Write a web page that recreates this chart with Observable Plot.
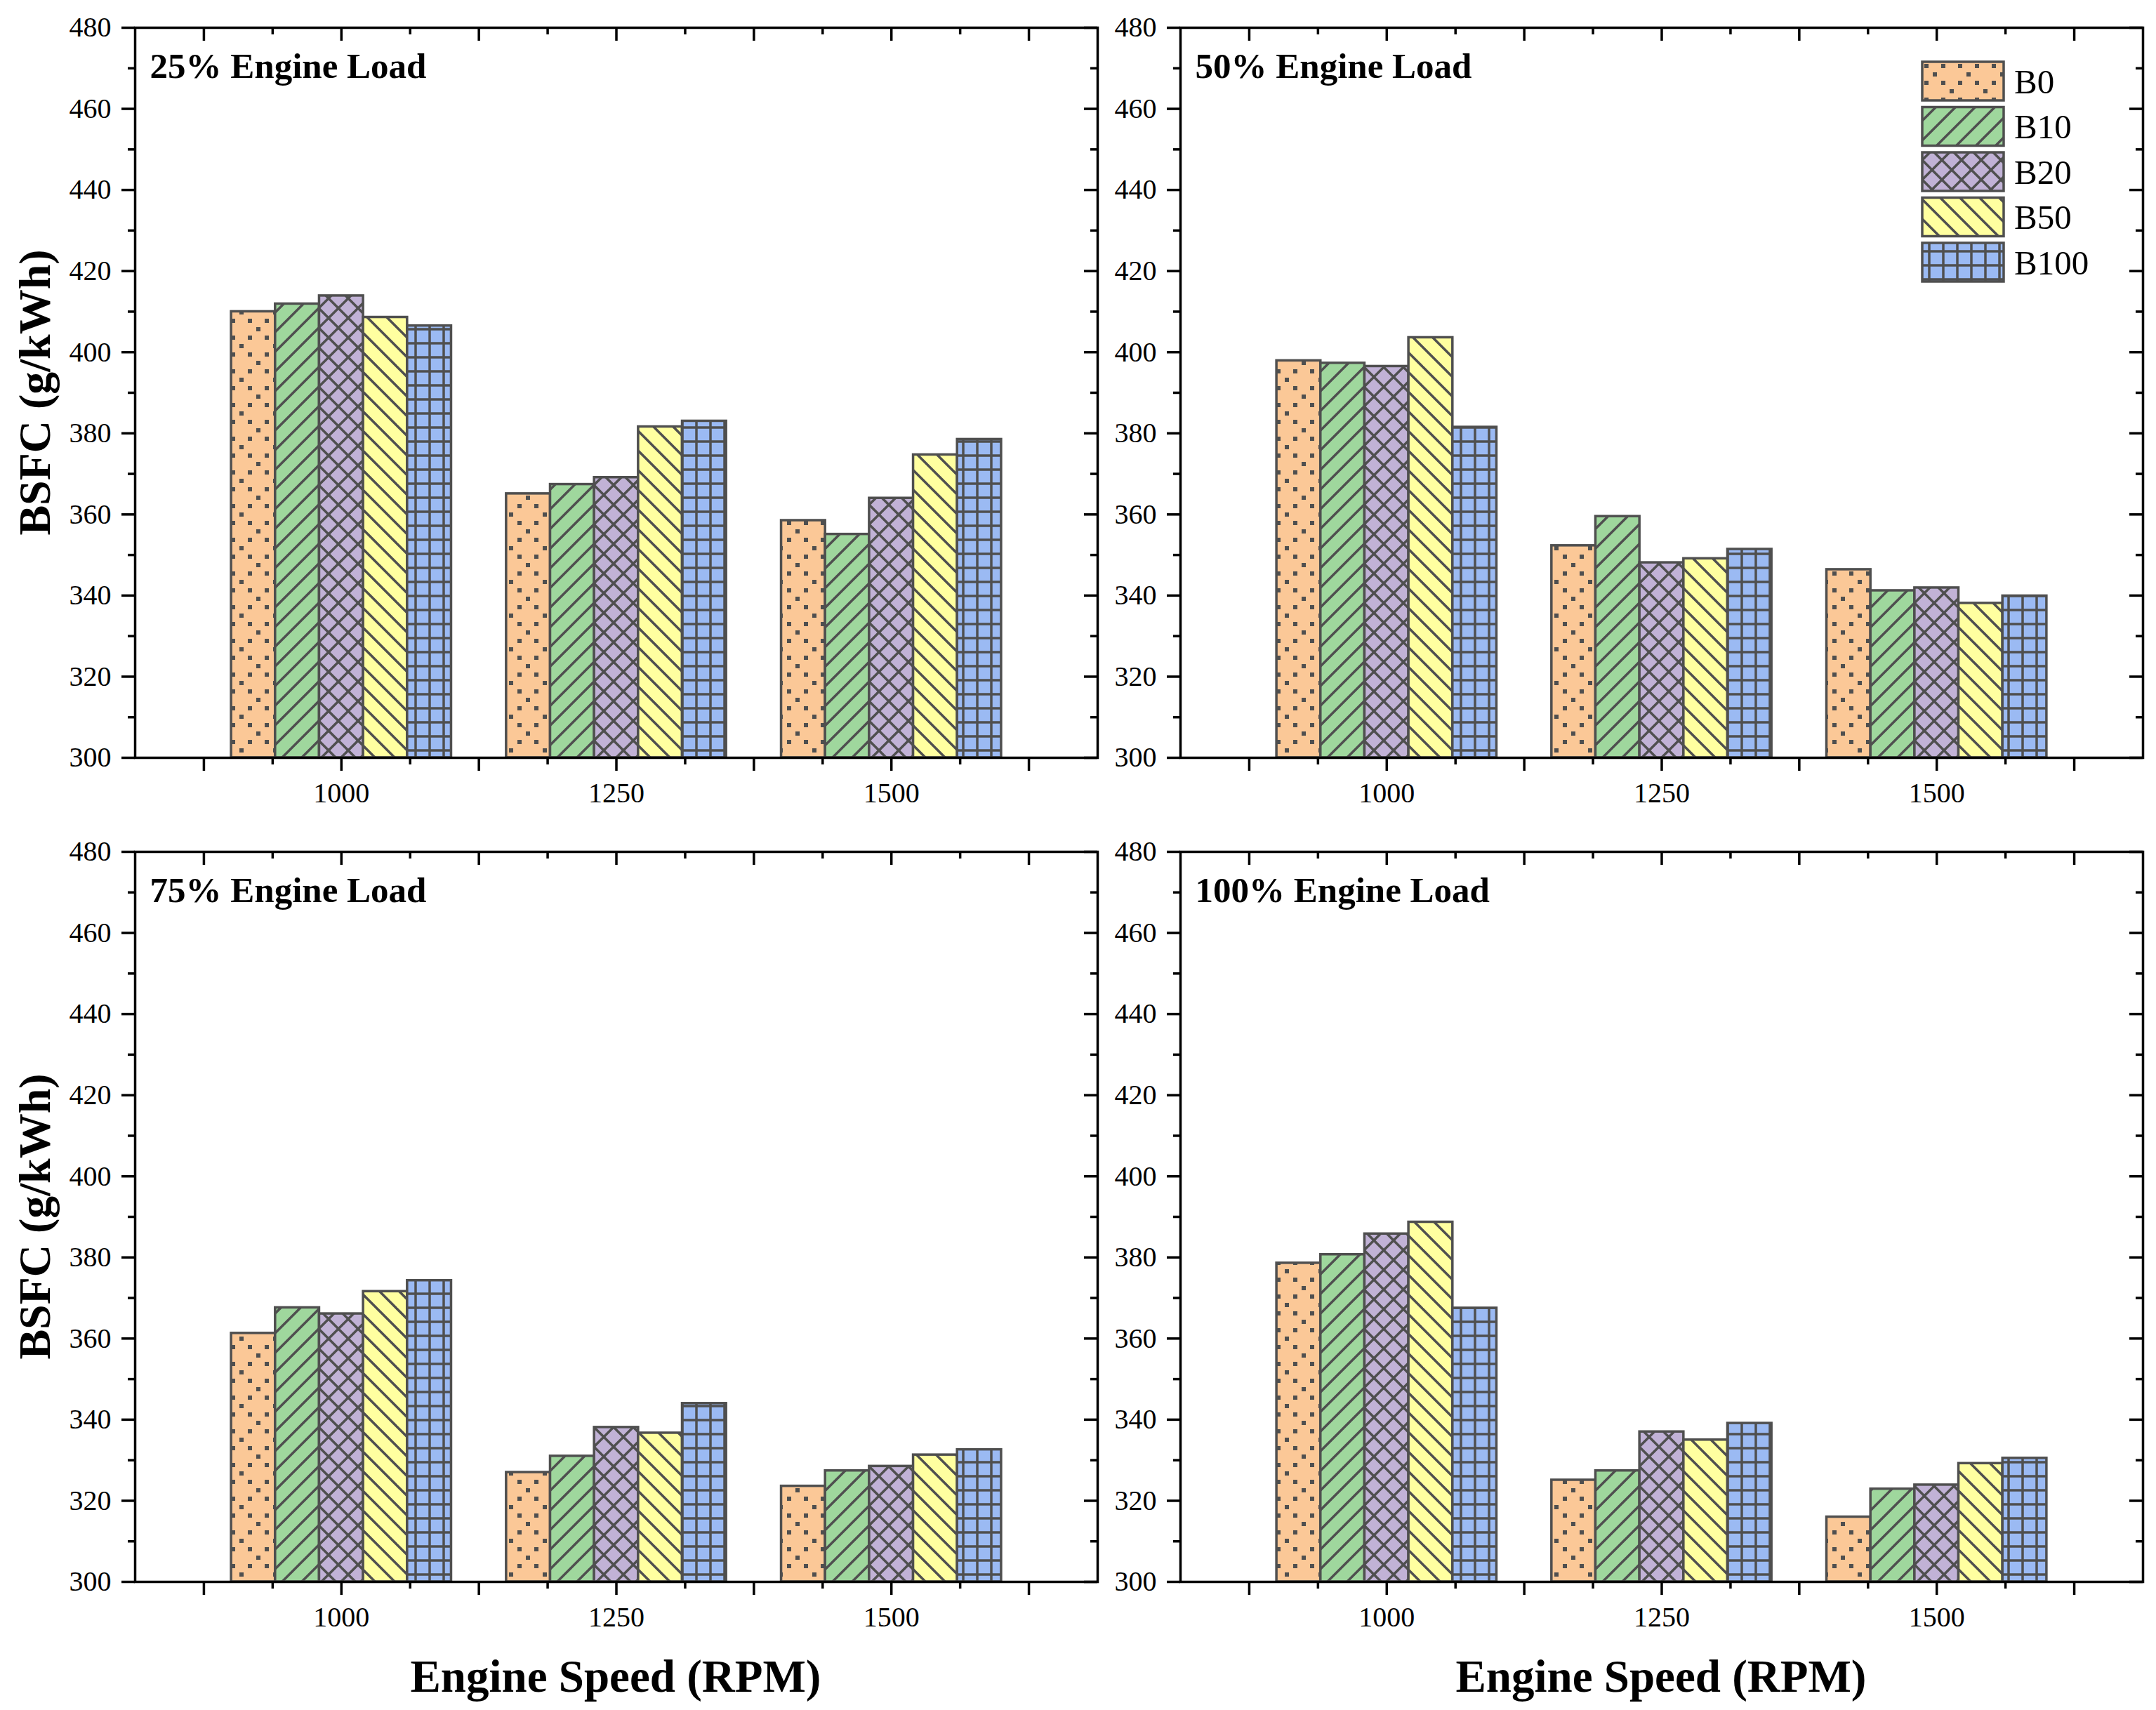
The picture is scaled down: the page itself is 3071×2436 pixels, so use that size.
<!DOCTYPE html>
<html>
<head>
<meta charset="utf-8">
<script src="https://cdn.jsdelivr.net/npm/d3@7"></script>
<script src="https://cdn.jsdelivr.net/npm/@observablehq/plot@0.6"></script>
<style>
  html, body { margin: 0; padding: 0; background: white; }
  #root { position: relative; width: 3071px; height: 2436px; background: white; overflow: hidden; }
  #root svg { max-width: none !important; }
  #root svg text { font-family: 'Liberation Serif', 'Times New Roman', serif; }
  .abs { position: absolute; }
</style>
</head>
<body>
<div id="root"></div>
<script>
// ---------------- data ----------------
const speeds = ["1000", "1250", "1500"];
const series = ["B0", "B10", "B20", "B50", "B100"];
const yTicks = [300, 320, 340, 360, 380, 400, 420, 440, 460, 480];
const yMinorTicks = [310, 330, 350, 370, 390, 410, 430, 450, 470];
const panelLabels = ["25% Engine Load", "50% Engine Load", "75% Engine Load", "100% Engine Load"];
const yTitle = "BSFC (g/kWh)";
const xTitle = "Engine Speed (RPM)";

// values: for each speed (1000, 1250, 1500), B0, B10, B20, B50, B100
const load25 = [410.0, 411.9, 413.9, 408.6, 406.5,
                365.1, 367.4, 369.1, 381.6, 383.0,
                358.5, 355.1, 364.0, 374.7, 378.5];
const load50 = [397.9, 397.3, 396.5, 403.6, 381.5,
                352.3, 359.5, 348.1, 349.1, 351.4,
                346.4, 341.2, 341.9, 338.1, 339.9];
const load75 = [361.3, 367.6, 366.1, 371.6, 374.3,
                327.0, 331.0, 338.1, 336.7, 344.0,
                323.6, 327.4, 328.5, 331.3, 332.6];
const load100 = [378.6, 380.7, 385.8, 388.7, 367.5,
                 325.1, 327.4, 337.0, 335.0, 339.1,
                 316.0, 322.9, 323.9, 329.2, 330.5];

// ---------------- style ----------------
const fills = ["#FBC897", "#9FD79D", "#C1B2D6", "#FFFFA0", "#9BBAF3"];
const ink = "#4F4F4F";
const FONT = "'Liberation Serif', 'Times New Roman', serif";
const root = document.getElementById("root");

// pattern definitions
const defs = d3.select(root).append("svg").attr("width", 1).attr("height", 1)
  .style("position", "absolute").style("left", "0").style("top", "0").append("defs");
function pat(id, size, bg, draw) {
  const p = defs.append("pattern").attr("id", id).attr("patternUnits", "userSpaceOnUse")
    .attr("width", size).attr("height", size);
  p.append("rect").attr("width", size).attr("height", size).attr("fill", bg);
  draw(p);
}
function ln(p, x1, y1, x2, y2, w) {
  p.append("line").attr("x1", x1).attr("y1", y1).attr("x2", x2).attr("y2", y2)
    .attr("stroke", ink).attr("stroke-width", w || 3.5).attr("stroke-linecap", "square");
}
pat("pat-B0", 48, fills[0], p => {
  [[6, 6], [30, 6], [6, 30], [30, 30], [18, 18], [42, 42]].forEach(([x, y]) =>
    p.append("rect").attr("x", x - 3).attr("y", y - 3).attr("width", 6).attr("height", 6).attr("fill", ink));
});
pat("pat-B10", 28, fills[1], p => {
  ln(p, 0, 28, 28, 0); ln(p, -7, 7, 7, -7); ln(p, 21, 35, 35, 21);
});
pat("pat-B20", 28, fills[2], p => {
  ln(p, 0, 28, 28, 0); ln(p, -7, 7, 7, -7); ln(p, 21, 35, 35, 21);
  ln(p, 0, 0, 28, 28); ln(p, -7, 21, 7, 35); ln(p, 21, -7, 35, 7);
});
pat("pat-B50", 28, fills[3], p => {
  ln(p, 0, 0, 28, 28); ln(p, -7, 21, 7, 35); ln(p, 21, -7, 35, 7);
});
pat("pat-B100", 20, fills[4], p => {
  ln(p, 10, -2, 10, 22); ln(p, -2, 10, 22, 10);
});

// ---------------- panels ----------------
const ML = 130, MR = 10, MT = 20, MB = 100, W = 1371, H = 1040;
const xMajor = [0.5, 1, 1.5, 2, 2.5, 3, 3.5];
const xMinor = [0.75, 1.25, 1.75, 2.25, 2.75, 3.25];

function panel(values, label) {
  const data = [];
  speeds.forEach((s, gi) => series.forEach((b, si) =>
    data.push({speed: s, gi, si, series: b, value: values[gi * series.length + si]})));
  return Plot.plot({
    width: ML + W + MR, height: MT + H + MB,
    marginLeft: ML, marginRight: MR, marginTop: MT, marginBottom: MB,
    style: {fontFamily: FONT, fontSize: "40px", color: "black", background: "transparent", overflow: "visible"},
    x: {domain: [0.25, 3.75]},
    y: {domain: [300, 480]},
    color: {domain: series, range: series.map(s => `url(#pat-${s})`)},
    marks: [
      Plot.rect(data, {
        x1: d => d.gi + 1 - 0.4 + d.si * 0.16,
        x2: d => d.gi + 1 - 0.4 + (d.si + 1) * 0.16,
        y1: 300, y2: "value", fill: "series", stroke: ink, strokeWidth: 3.5
      }),
      Plot.frame({stroke: "black", strokeWidth: 3.5}),
      Plot.axisY({anchor: "left", ticks: yTicks, tickSize: 19, tickPadding: 15, tickFormat: d => String(d),
        label: null, strokeWidth: 3.5, fontSize: 40, fontFamily: FONT}),
      Plot.axisY({anchor: "left", ticks: yMinorTicks, tickSize: 10, tickFormat: () => "", label: null, strokeWidth: 3.5}),
      Plot.axisX({anchor: "bottom", ticks: xMajor, tickSize: 19, tickPadding: 16,
        tickFormat: d => (d % 1 === 0 ? speeds[d - 1] : ""), label: null, strokeWidth: 3.5, fontSize: 40, fontFamily: FONT}),
      Plot.axisX({anchor: "bottom", ticks: xMinor, tickSize: 10, tickFormat: () => "", label: null, strokeWidth: 3.5}),
      Plot.tickY(yTicks, {y: d => d, insetLeft: W - 19, stroke: "black", strokeWidth: 3.5}),
      Plot.tickY(yMinorTicks, {y: d => d, insetLeft: W - 10, stroke: "black", strokeWidth: 3.5}),
      Plot.tickX(xMajor, {x: d => d, insetBottom: H - 19, stroke: "black", strokeWidth: 3.5}),
      Plot.tickX(xMinor, {x: d => d, insetBottom: H - 10, stroke: "black", strokeWidth: 3.5}),
      Plot.text([label], {text: d => d, frameAnchor: "top-left", dx: 21, dy: 35, lineAnchor: "top",
        textAnchor: "start", fontWeight: "bold", fontSize: 51, fontFamily: FONT, fill: "black"})
    ]
  });
}

const frames = [
  {vals: load25, left: 192, top: 39},
  {vals: load50, left: 1681, top: 39},
  {vals: load75, left: 192, top: 1213},
  {vals: load100, left: 1681, top: 1213}
];
frames.forEach((f, i) => {
  const svg = panel(f.vals, panelLabels[i]);
  const div = document.createElement("div");
  div.className = "abs";
  div.style.left = (f.left - ML) + "px";
  div.style.top = (f.top - MT) + "px";
  div.appendChild(svg);
  root.appendChild(div);
});

// ---------------- titles (overlay) ----------------
const ov = d3.select(root).append("svg").attr("width", 3071).attr("height", 2436)
  .style("position", "absolute").style("left", "0").style("top", "0").style("pointer-events", "none");
[559, 1733].forEach(cy => {
  ov.append("text").attr("transform", `translate(71,${cy}) rotate(-90)`)
    .attr("text-anchor", "middle").attr("font-family", FONT).attr("font-weight", "bold")
    .attr("font-size", 64).attr("fill", "black").text(yTitle);
});
[877, 2366].forEach(cx => {
  ov.append("text").attr("x", cx).attr("y", 2410).attr("text-anchor", "middle")
    .attr("font-family", FONT).attr("font-weight", "bold").attr("font-size", 65).attr("fill", "black").text(xTitle);
});

// ---------------- legend ----------------
const lg = ov.append("g").attr("transform", "translate(2738,88)");
series.forEach((s, i) => {
  const y = i * 64.5;
  lg.append("rect").attr("x", 0).attr("y", y).attr("width", 116).attr("height", 55)
    .attr("fill", `url(#pat-${s})`).attr("stroke", ink).attr("stroke-width", 3.5);
  lg.append("text").attr("x", 131).attr("y", y + 27.5).attr("dy", "0.35em")
    .attr("font-family", FONT).attr("font-size", 49).attr("fill", "black").text(s);
});
</script>
</body>
</html>
